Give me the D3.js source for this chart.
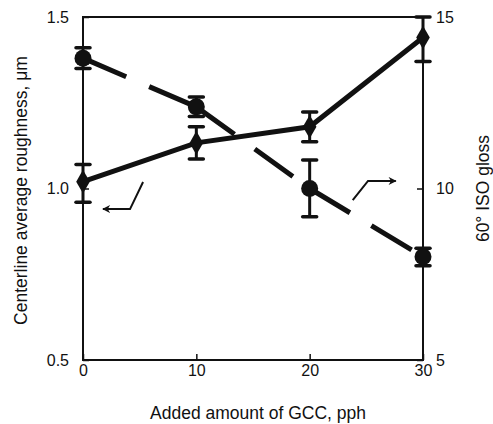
<!DOCTYPE html>
<html><head><meta charset="utf-8">
<script src="https://cdn.jsdelivr.net/npm/d3@7"></script>
<style>body{margin:0;background:#fff}text{font-family:"Liberation Sans",Arial,sans-serif;fill:#111}</style>
</head><body><svg id="c" width="493" height="424"></svg>
<script>
const gcc = [0, 10, 20, 30];
const roughness = [1.02, 1.133, 1.18, 1.44];
const roughnessHi = [1.07, 1.18, 1.223, 1.50];
const roughnessLo = [0.96, 1.086, 1.136, 1.37];
const gloss = [13.8, 12.38, 10.0, 8.01];
const glossHi = [14.1, 12.67, 10.83, 8.26];
const glossLo = [13.5, 12.1, 9.18, 7.75];
const xTicks = [0, 10, 20, 30];
const yLeftTicks = [0.5, 1.0, 1.5];
const yRightTicks = [5, 10, 15];

const svg = d3.select("#c");
const L = 83, R = 423, T = 17, B = 360;
const x = d3.scaleLinear().domain([0, 30]).range([L, R]);
const yL = d3.scaleLinear().domain([0.5, 1.5]).range([B, T]);
const yR = d3.scaleLinear().domain([5, 15]).range([B, T]);
const ink = "#111";

// frame
svg.append("rect").attr("x", L).attr("y", T).attr("width", R - L).attr("height", B - T)
  .attr("fill", "none").attr("stroke", ink).attr("stroke-width", 2);

// axes
const axB = svg.append("g").attr("transform", `translate(0,${B})`)
  .call(d3.axisBottom(x).tickValues(xTicks).tickFormat(d3.format("d")).tickSizeInner(-6).tickSizeOuter(0).tickPadding(5));
const axL = svg.append("g").attr("transform", `translate(${L},0)`)
  .call(d3.axisLeft(yL).tickValues(yLeftTicks).tickFormat(d3.format(".1f")).tickSizeInner(-6).tickSizeOuter(0).tickPadding(14));
const axR = svg.append("g").attr("transform", `translate(${R},0)`)
  .call(d3.axisRight(yR).tickValues(yRightTicks).tickFormat(d3.format("d")).tickSizeInner(-6).tickSizeOuter(0).tickPadding(13));
[axB, axL, axR].forEach(a => {
  a.select(".domain").remove();
  a.selectAll(".tick line").attr("stroke", ink).attr("stroke-width", 1.5);
  a.selectAll(".tick text").attr("font-size", 16).attr("font-family", "Liberation Sans, Arial, sans-serif").attr("fill", ink);
});

// titles
svg.append("text").attr("x", 258).attr("y", 419).attr("text-anchor", "middle").attr("font-size", 17.5).text("Added amount of GCC, pph");
svg.append("text").attr("transform", `translate(27,${(T + B) / 2 + 2}) rotate(-90)`).attr("text-anchor", "middle").attr("font-size", 17.5).text("Centerline average roughness, μm");
svg.append("text").attr("transform", `translate(489,${(T + B) / 2}) rotate(-90)`).attr("text-anchor", "middle").attr("font-size", 17.5).text("60° ISO gloss");

// gloss dashed line, dash pattern restarts at each point
const segs = d3.pairs(gloss.map((d, i) => [x(gcc[i]), yR(d)]));
svg.append("g").selectAll("path").data(segs).enter().append("path")
  .attr("d", d => d3.line()(d)).attr("fill", "none").attr("stroke", ink)
  .attr("stroke-width", 5).attr("stroke-dasharray", "47,25");
// roughness solid line
const lineR = d3.line().x((d, i) => x(gcc[i])).y(d => yL(d));
svg.append("path").datum(roughness).attr("d", lineR).attr("fill", "none").attr("stroke", ink).attr("stroke-width", 5);

// error bars
function errBars(hi, lo, sc) {
  const g = svg.append("g").attr("stroke", ink);
  gcc.forEach((v, i) => {
    const cx = x(v);
    g.append("line").attr("x1", cx).attr("x2", cx).attr("y1", sc(hi[i])).attr("y2", sc(lo[i])).attr("stroke-width", 3);
    [hi[i], lo[i]].forEach(e => g.append("line").attr("x1", cx - 7).attr("x2", cx + 7).attr("y1", sc(e)).attr("y2", sc(e)).attr("stroke-width", 3.5).attr("stroke-linecap", "round"));
  });
}
errBars(glossHi, glossLo, yR);
errBars(roughnessHi, roughnessLo, yL);

// markers
svg.selectAll(".circ").data(gloss).enter().append("circle")
  .attr("cx", (d, i) => x(gcc[i])).attr("cy", d => yR(d)).attr("r", 8.5).attr("fill", ink);
svg.selectAll(".diam").data(roughness).enter().append("path")
  .attr("d", d3.symbol(d3.symbolDiamond, 160)())
  .attr("transform", (d, i) => `translate(${x(gcc[i])},${yL(d)})`).attr("fill", ink);

// annotation arrows
svg.append("defs").append("marker").attr("id", "ah").attr("viewBox", "0 0 10 10").attr("refX", 9).attr("refY", 5)
  .attr("markerWidth", 12).attr("markerHeight", 8).attr("markerUnits", "userSpaceOnUse").attr("orient", "auto")
  .append("path").attr("d", "M0,0 L10,5 L0,10 L3,5 Z").attr("fill", ink);
svg.append("path").attr("d", `M${x(5.3)},${yL(1.019)} L${x(4.15)},${yL(0.94)} L${x(1.76)},${yL(0.94)}`)
  .attr("fill", "none").attr("stroke", ink).attr("stroke-width", 2).attr("marker-end", "url(#ah)");
svg.append("path").attr("d", `M${x(23.8)},${yR(9.66)} L${x(25.15)},${yR(10.22)} L${x(27.6)},${yR(10.22)}`)
  .attr("fill", "none").attr("stroke", ink).attr("stroke-width", 2).attr("marker-end", "url(#ah)");
</script></body></html>
